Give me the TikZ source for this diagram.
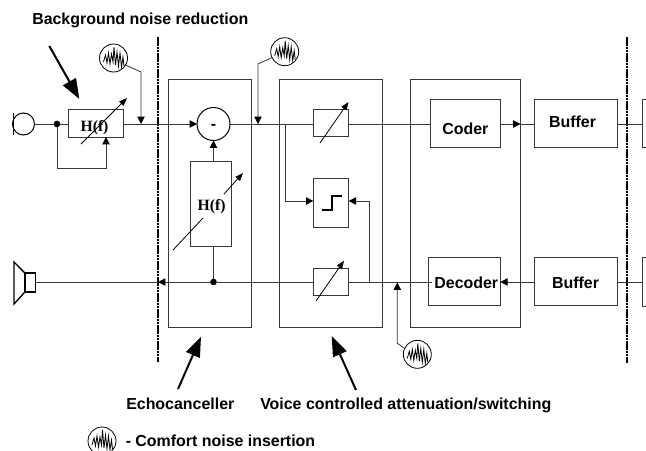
\documentclass[tikz,border=0pt]{standalone}
\usepackage{fontspec}
\setmainfont{Liberation Sans}
\newfontfamily\serifb{Liberation Serif}
\usetikzlibrary{arrows.meta,calc}
\definecolor{ln}{gray}{0.22}
\newcommand{\noisewave}[1]{%
  \draw[line width=0.6pt,black,line join=miter,shift={(#1)}] (-10,4) -- (-8,-3) -- (-6.5,5) -- (-5,-5) -- (-3.5,6) -- (-2,-4) -- (-0.5,4) -- (0.5,-11) -- (2,7) -- (3.5,-6) -- (5,8) -- (6.5,-5) -- (8,9) -- (9.5,-1) -- (10.5,8);}
\tikzset{
  x=0.75pt,y=-0.75pt,
  blk/.style={draw=ln,line width=0.72pt,rectangle,inner sep=0pt,outer sep=0pt,fill=none},
  wire/.style={draw=ln,line width=0.72pt},
  arr/.style={wire,-{Triangle[length=5.5pt,width=5.5pt,color=black]}},
  varr/.style={draw=black,line width=0.6pt,-{Triangle[length=6pt,width=4.5pt,color=black]}},
  bigarr/.style={draw=black,line width=1.5pt,-{Triangle[length=15pt,width=11pt,color=black]}},
  sep/.style={draw=black,line width=1.4pt,dash pattern=on 2pt off 0.4pt},
  noisec/.style={draw=black,line width=0.6pt,circle,inner sep=0pt,outer sep=0pt,minimum size=21pt},
  dotn/.style={fill=black,circle,inner sep=0pt,outer sep=0pt,minimum size=5pt},
  lab/.style={font=\bfseries\fontsize{11.95pt}{14pt}\selectfont,inner sep=0pt,text=black,anchor=base},
  labw/.style={lab,anchor=base west},
  hf/.style={font=\serifb\bfseries\fontsize{11.8pt}{14pt}\selectfont,inner sep=0pt,text=black,anchor=base},
}
\begin{document}
\begin{tikzpicture}
\useasboundingbox (0,0) rectangle (646,450);
% outer boxes
\node[blk,minimum width=62.25pt,minimum height=186pt] (echo) at (210,203) {};
\node[blk,minimum width=77.75pt,minimum height=186pt] (vca) at (330.9,203) {};
\node[blk,minimum width=82.75pt,minimum height=186pt] (cod) at (465.5,203) {};
% separators
\coordinate (s1a) at (158,37); \coordinate (s1b) at (158,362);
\coordinate (s2a) at (627.3,37); \coordinate (s2b) at (627.3,363);
\draw[sep] (s1a) -- (s1b);
\draw[sep] (s2a) -- (s2b);
% mic
\node[draw=black,line width=0.75pt,circle,inner sep=0pt,outer sep=0pt,minimum size=16.5pt] (mic) at (23.5,124) {};
\coordinate (mica) at (13,113); \coordinate (micb) at (13,135);
\draw[draw=black,line width=0.75pt] (mica) -- (micb);
% speaker
\node[draw=black,line width=1pt,rectangle,inner sep=0pt,outer sep=0pt,minimum width=8pt,minimum height=14.25pt] (spk) at (30.2,282.5) {};
\coordinate (c1) at (14,262); \coordinate (c2) at (14,304);
\draw[draw=black,line width=1pt] (spk.north west) -- (c1) -- (c2) -- (spk.south west);
% boxes
\node[blk,minimum width=41.25pt,minimum height=21pt] (h1) at (95.5,123.5) {};
\node[dotn] (d1) at (57,124) {};
\node[draw=black,line width=0.75pt,circle,inner sep=0pt,outer sep=0pt,minimum size=24.75pt] (mix) at (213.5,124) {};
\node[lab] at (213.5,129) {-};
\node[blk,minimum width=30.75pt,minimum height=63.75pt] (h2) at (211,203.5) {};
\node[dotn] (d2) at (213.5,282) {};
\node[blk,minimum width=26.5pt,minimum height=20.5pt] (a1) at (331,123) {};
\node[blk,minimum width=26.5pt,minimum height=36.25pt] (sw) at (331,203) {};
\node[blk,minimum width=26.5pt,minimum height=20.25pt] (a2) at (331,281.8) {};
\node[blk,minimum width=52pt,minimum height=36pt] (coder) at (465.6,123.3) {};
\node[blk,minimum width=62.5pt,minimum height=36pt] (b1) at (576,123.3) {};
\node[blk,minimum width=54pt,minimum height=36.25pt] (dec) at (464.3,281.8) {};
\node[blk,minimum width=62.5pt,minimum height=36.25pt] (b2) at (576,281.8) {};
% partial boxes at right edge
\coordinate (p1a) at (650,99.3); \coordinate (p1b) at (642.7,99.3); \coordinate (p1c) at (642.7,147.3); \coordinate (p1d) at (650,147.3);
\coordinate (p2a) at (650,257.7); \coordinate (p2b) at (642.7,257.7); \coordinate (p2c) at (642.7,306); \coordinate (p2d) at (650,306);
\begin{scope}
\clip (0,0) rectangle (646,450);
\draw[wire] (p1a) -- (p1b) -- (p1c) -- (p1d);
\draw[wire] (p2a) -- (p2b) -- (p2c) -- (p2d);
\end{scope}
% labels
\node[hf] at (94.5,131.5) {H(f)};
\node[hf] at (211.7,210.5) {H(f)};
\node[lab] at (465.4,134.3) {Coder};
\node[lab] at (572.5,127.7) {Buffer};
\node[lab] at (466.3,288.3) {Decoder};
\node[lab] at (575.5,288.3) {Buffer};
\node[labw] at (32,24) {Background noise reduction};
\node[labw] at (126,409) {Echocanceller};
\node[labw] at (260,409) {Voice controlled attenuation/switching};
\node[labw] at (125.5,446) {- Comfort noise insertion};
% top signal path
\draw[wire] (mic.east) -- (d1);
\draw[wire] (d1) -- (h1.west |- d1);
\coordinate (lp1) at (57,168); \coordinate (lp2) at (106,168);
\draw[arr] (d1) -- (lp1) -- (lp2) -- (106,137);
\draw[arr] (h1.east |- mix) -- (mix.west);
\draw[wire] (mix.east) -- (a1.west |- mix);
\draw[wire] (a1.east |- mix) -- (coder.west |- mix);
\draw[arr] (coder.east |- mix) -- (520.5,124);
\draw[wire] (520,124) -- (b1.west |- mix);
\draw[wire] (b1.east |- mix) -- (p1b |- mix);
% echo canceller links
\draw[arr] (h2.north -| mix) -- (mix.south);
\draw[wire] (h2.south -| mix) -- (d2);
% bottom signal path
\draw[arr] (b2.west |- d2) -- (dec.east |- d2);
\draw[wire] (p2b |- d2) -- (b2.east |- d2);
\draw[wire] (432,282) -- (a2.east |- d2);
\draw[wire] (a2.west |- d2) -- (d2);
\draw[arr] (d2) -- (158,282);
\draw[wire] (158,282) -- (spk.east |- d2);
% switch feeds
\coordinate (t1) at (285.7,124); \coordinate (t2) at (285.7,201);
\draw[arr] (t1) -- (t2) -- (sw.west |- t2);
\coordinate (t3) at (369.3,282); \coordinate (t4) at (369.3,201);
\draw[arr] (t3) -- (t4) -- (sw.east |- t4);
% step symbol
\coordinate (st1) at (322,210); \coordinate (st2) at (332.3,210); \coordinate (st3) at (332.3,195.7); \coordinate (st4) at (341.7,195.7);
\draw[draw=black,line width=1.5pt] (st1) -- (st2) -- (st3) -- (st4);
% variable arrows
\coordinate (v1a) at (81,144); \coordinate (v1b) at (127,98);
\draw[varr] (v1a) -- (v1b);
\coordinate (v2a) at (173,250); \coordinate (v2b) at (203,218);
\coordinate (v2c) at (224,194); \coordinate (v2d) at (243,173);
\draw[draw=black,line width=0.6pt] (v2a) -- (v2b);
\draw[varr] (v2c) -- (v2d);
\coordinate (v3a) at (320,143); \coordinate (v3b) at (348.5,102);
\draw[varr] (v3a) -- (v3b);
\coordinate (v4a) at (316,301); \coordinate (v4b) at (344,260.7);
\draw[varr] (v4a) -- (v4b);
% noise sources
\node[noisec] (n1) at (113.5,58) {}; \noisewave{113.5,58}
\node[noisec] (n2) at (284.7,51.7) {}; \noisewave{284.7,51.7}
\node[noisec] (n3) at (417.3,354.3) {}; \noisewave{417.3,354.3}
\node[noisec] (n4) at (102,441) {}; \noisewave{102,441}
\coordinate (k1) at (141,72); \coordinate (k1e) at (141,124);
\draw[arr,draw=black!80,line width=0.6pt] (n1.-30) -- (k1) -- (k1e);
\coordinate (k2) at (258,64); \coordinate (k2e) at (258,124);
\draw[arr,draw=black!80,line width=0.6pt] (n2.205) -- (k2) -- (k2e);
\coordinate (k3) at (397.3,343.3); \coordinate (k3e) at (397.3,282.5);
\draw[arr,draw=black!80,line width=0.6pt] (n3.155) -- (k3) -- (k3e);
% big arrows
\coordinate (g1a) at (49.3,46); \coordinate (g1b) at (79.3,99);
\draw[bigarr] (g1a) -- (g1b);
\coordinate (g2a) at (178,389); \coordinate (g2b) at (201,336.7);
\draw[bigarr] (g2a) -- (g2b);
\coordinate (g3a) at (356,390); \coordinate (g3b) at (331.7,336);
\draw[bigarr] (g3a) -- (g3b);
\end{tikzpicture}
\end{document}
